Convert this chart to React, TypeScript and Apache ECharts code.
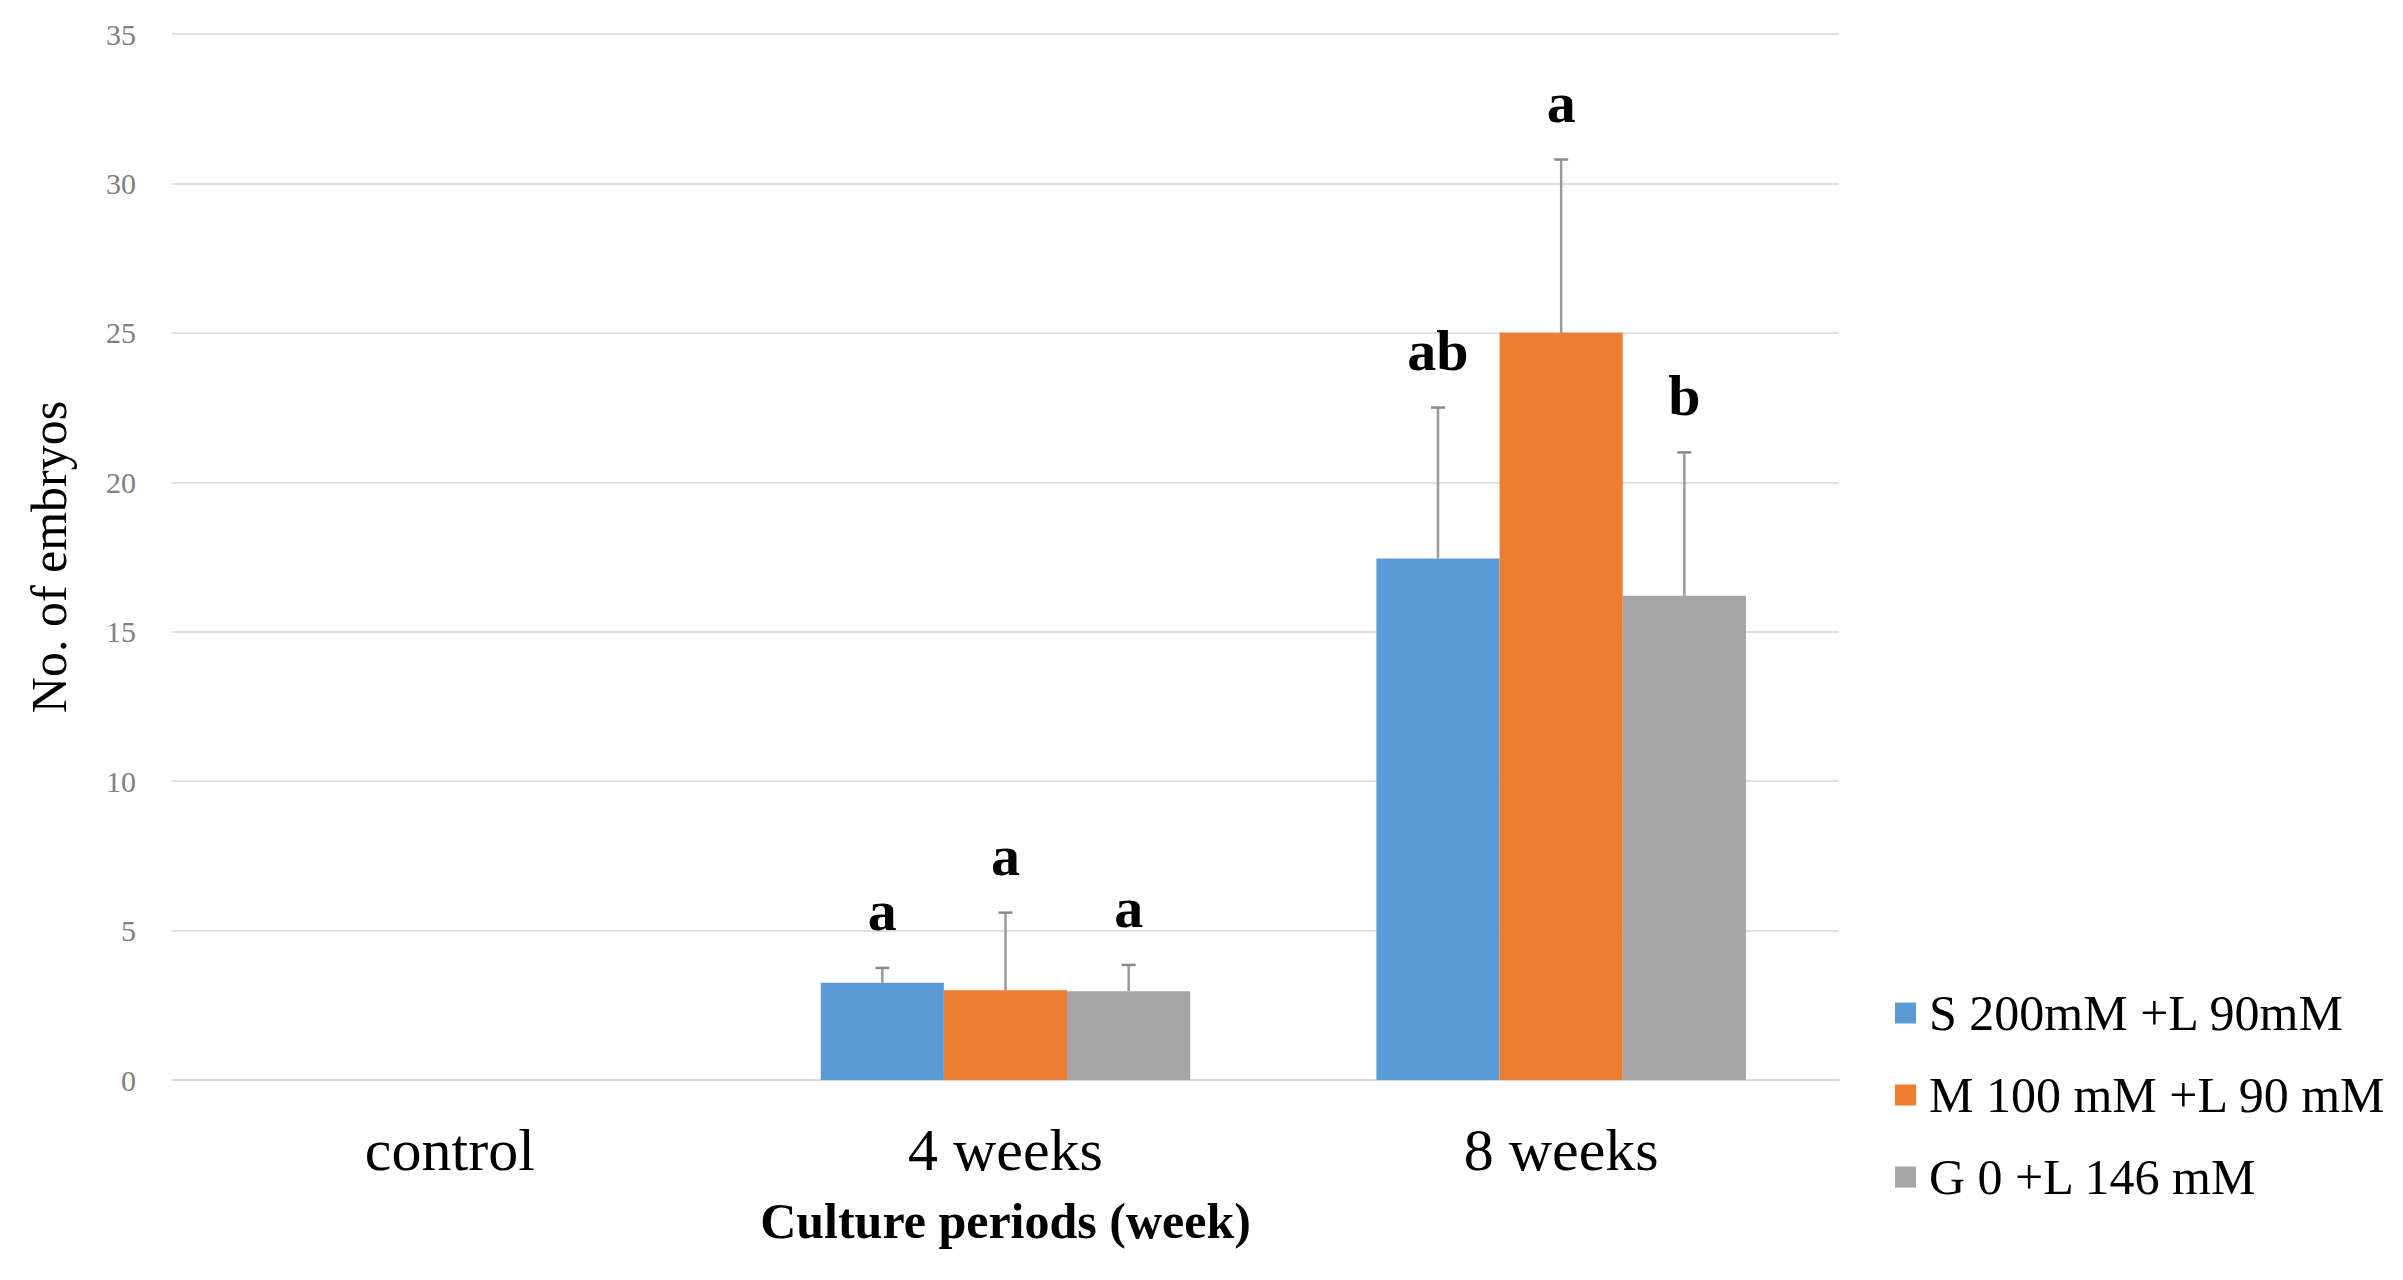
import React, { useEffect, useRef } from "react";
import * as echarts from "echarts";

const categories = ["control", "4 weeks", "8 weeks"];
const seriesNames = ["S 200mM +L 90mM", "M 100 mM +L 90 mM", "G 0 +L 146 mM"];
const colors = ["#5B9BD5", "#ED7D31", "#A5A5A5"];
const meansS = [0, 3.25, 17.45];
const meansM = [0, 3.0, 25.0];
const meansG = [0, 2.97, 16.2];
const sdS = [0, 0.5, 5.05];
const sdM = [0, 2.6, 5.8];
const sdG = [0, 0.88, 4.8];
const lettersS = ["", "a", "ab"];
const lettersM = ["", "a", "a"];
const lettersG = ["", "a", "b"];
const yTicks = [0, 5, 10, 15, 20, 25, 30, 35];

const means = [meansS, meansM, meansG];
const sds = [sdS, sdM, sdG];
const letters = [lettersS, lettersM, lettersG];

const FONT = "'Liberation Serif', 'Times New Roman', serif";
const CAT_GAP = 0.335;

export default function App() {
  const ref = useRef<HTMLDivElement>(null);
  useEffect(() => {
    document.body.style.margin = "0";
    const chart = echarts.init(ref.current!, null, { renderer: "svg" });
    const barSeries = seriesNames.map((name, i) => ({
      name,
      type: "bar",
      data: means[i],
      barGap: "0%",
      barCategoryGap: (CAT_GAP * 100).toFixed(1) + "%",
      itemStyle: { color: colors[i] },
      z: 2,
    }));
    const errSeries = seriesNames.map((name, i) => ({
      name: "err" + i,
      type: "custom",
      z: 5,
      data: categories.map((_, c) => [c, means[i][c], sds[i][c]]),
      renderItem: (params: any, api: any) => {
        const c = api.value(0);
        const m = api.value(1);
        const s = api.value(2);
        if (!s) return null;
        const base = api.coord([c, m]);
        const top = api.coord([c, m + s]);
        const bandW = api.size([1, 0])[0];
        const barW = (bandW * (1 - CAT_GAP)) / 3;
        const x = base[0] + (i - 1) * barW;
        const letter = letters[i][params.dataIndex];
        return {
          type: "group",
          children: [
            {
              type: "line",
              shape: { x1: x, y1: base[1], x2: x, y2: top[1] },
              style: { stroke: "#9a9a9a", lineWidth: 2.5 },
            },
            {
              type: "line",
              shape: { x1: x - 7, y1: top[1], x2: x + 7, y2: top[1] },
              style: { stroke: "#8a8a8a", lineWidth: 2.5 },
            },
            {
              type: "text",
              x: x,
              y: top[1] - 28,
              style: {
                text: letter,
                fontFamily: FONT,
                fontWeight: "bold",
                fontSize: 58,
                fill: "#000",
                align: "center",
                verticalAlign: "bottom",
              },
            },
          ],
        };
      },
    }));
    chart.setOption({
      animation: false,
      backgroundColor: "#fff",
      grid: { left: 172, right: 564, top: 34, bottom: 200 },
      legend: {
        data: seriesNames,
        orient: "vertical",
        left: 1890,
        top: 982,
        itemWidth: 21,
        itemHeight: 21,
        itemGap: 30,
        icon: "rect",
        textStyle: {
          fontFamily: FONT,
          fontSize: 50,
          lineHeight: 52,
          color: "#000",
          padding: [0, 0, 0, 8],
        },
      },
      xAxis: {
        type: "category",
        data: categories,
        name: "Culture periods (week)",
        nameLocation: "middle",
        nameGap: 116,
        nameTextStyle: { fontFamily: FONT, fontWeight: "bold", fontSize: 50, color: "#000" },
        axisLine: { show: true, lineStyle: { color: "#d9d9d9", width: 2 } },
        axisTick: { show: false },
        axisLabel: { fontFamily: FONT, fontSize: 60, color: "#000", margin: 40 },
      },
      yAxis: {
        type: "value",
        min: yTicks[0],
        max: yTicks[yTicks.length - 1],
        interval: yTicks[1] - yTicks[0],
        name: "No. of embryos",
        nameLocation: "middle",
        nameRotate: 90,
        nameGap: 98,
        nameTextStyle: { fontFamily: FONT, fontSize: 50, color: "#000" },
        axisLine: { show: false },
        axisTick: { show: false },
        splitLine: { lineStyle: { color: "#e0e0e0", width: 2 } },
        axisLabel: { fontFamily: FONT, fontSize: 30, color: "#808080", margin: 36 },
      },
      series: [...barSeries, ...errSeries],
    });
    return () => chart.dispose();
  }, []);
  return <div ref={ref} style={{ width: 2403, height: 1280 }} />;
}
